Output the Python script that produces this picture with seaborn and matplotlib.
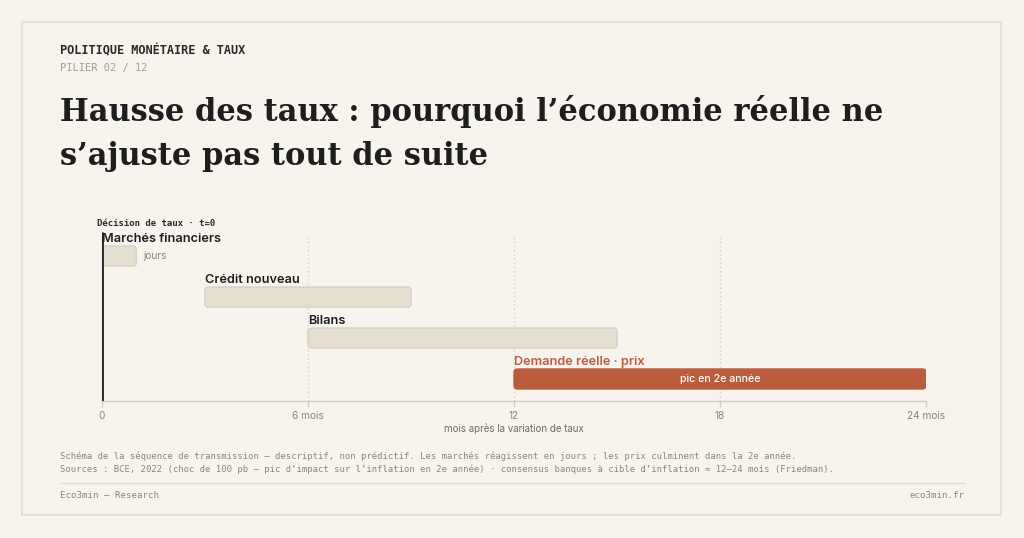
import numpy as np
import matplotlib.pyplot as plt
import seaborn as sns
from matplotlib.patches import Rectangle, FancyBboxPatch
from matplotlib.lines import Line2D

# Data: transmission phases (months after the rate change)
phases = ["Marchés financiers", "Crédit nouveau", "Bilans", "Demande réelle · prix"]
start_months = [0, 3, 6, 12]
end_months = [1, 9, 15, 24]
bar_notes = ["jours", "", "", "pic en 2e année"]
tick_values = [0, 6, 12, 18, 24]
tick_labels = ["0", "6 mois", "12", "18", "24 mois"]

BG = "#f7f4ee"
INK = "#1e1e1e"
MUTED = "#8b867e"
LIGHT_BAR = "#e5dfd2"
LIGHT_EDGE = "#d8d0c1"
RUST = "#bb5c3d"
LINE = "#d2ccc2"

sns.set_theme(style="white")
plt.rcParams["font.family"] = ["Inter", "DejaVu Sans"]

W, H = 1024, 538
fig = plt.figure(figsize=(W / 100, H / 100), dpi=100, facecolor=BG)


def px(x, y):
    return x / W, 1 - y / H


# card frame
fig.patches.append(Rectangle(px(22, 515), (1001 - 22) / W, (515 - 22) / H,
                             transform=fig.transFigure, facecolor="none",
                             edgecolor="#e4ded2", linewidth=1.2, zorder=-1))

MONO = ["DejaVu Sans Mono"]
SERIF = ["DejaVu Serif"]

fig.text(*px(60, 51), "POLITIQUE MONÉTAIRE & TAUX", family=MONO, fontsize=8.6,
         fontweight="bold", color="#2a2a2a", va="center", ha="left")
fig.text(*px(60, 68), "PILIER 02 / 12", family=MONO, fontsize=7.5,
         color="#a39d94", va="center", ha="left")
fig.text(*px(60, 121), "Hausse des taux : pourquoi l’économie réelle ne",
         family=SERIF, fontsize=22, fontweight="bold", color=INK,
         va="baseline", ha="left")
fig.text(*px(60, 165), "s’ajuste pas tout de suite",
         family=SERIF, fontsize=22, fontweight="bold", color=INK,
         va="baseline", ha="left")

# chart axes: rows 41 px apart, bar height 20 px
row_px = 41.0
ax_top, ax_bot = 224, 401
first_center = 256
ylim_top = -(first_center - ax_top) / row_px
ylim_bot = 3 + (ax_bot - (first_center + 3 * row_px)) / row_px

ax = fig.add_axes([102 / W, 1 - ax_bot / H, (926 - 102) / W, (ax_bot - ax_top) / H])
ax.set_facecolor("none")
ax.set_xlim(0, 24)
ax.set_ylim(ylim_bot, ylim_top)

rows = np.arange(len(phases))
bar_h = 20 / row_px
widths = [e - s for s, e in zip(start_months, end_months)]
colors = [LIGHT_BAR] * 3 + [RUST]
edges = [LIGHT_EDGE] * 3 + [RUST]

# dotted guides
for v in tick_values[1:-1]:
    ax.plot([v, v], [ylim_bot, -0.46], color="#d6d0c6", linestyle=(0, (1, 2)),
            linewidth=1, zorder=1)

bars = ax.barh(rows, widths, left=start_months, height=bar_h, color=colors,
               edgecolor=edges, linewidth=1, zorder=2)

# swap the square bars for rounded ones of the same geometry
px_per_month = (926 - 102) / 24
for b, fc, ec in zip(bars, colors, edges):
    b.set_visible(False)
    ax.add_patch(FancyBboxPatch(
        (b.get_x(), b.get_y()), b.get_width(), b.get_height(),
        boxstyle=f"round,pad=0,rounding_size={3.5 / px_per_month}",
        mutation_aspect=px_per_month / row_px,
        facecolor=fc, edgecolor=ec, linewidth=1, zorder=2))

for i, (name, s, e, note) in enumerate(zip(phases, start_months, end_months, bar_notes)):
    is_last = i == len(phases) - 1
    ax.text(s, i - bar_h / 2 - 0.09, name, fontsize=9.2, fontweight="semibold",
            color=RUST if is_last else INK, va="baseline", ha="left", zorder=4)
    if note and is_last:
        ax.text((s + e) / 2, i, note, fontsize=7.6, fontweight="medium",
                color="white", va="center", ha="center", zorder=4)
    elif note:
        ax.text(e + 0.2, i, note, fontsize=7.3, color=MUTED,
                va="center", ha="left", zorder=4)

# t=0 decision line
ax.plot([0, 0], [ylim_bot, ylim_top + 8 / row_px], color="#222222",
        linewidth=2, zorder=5, solid_capstyle="butt")

sns.despine(ax=ax, left=True, top=True, right=True)
ax.spines["bottom"].set_color(LINE)
ax.spines["bottom"].set_linewidth(1)
ax.set_yticks([])
ax.set_xticks(tick_values)
ax.set_xticklabels(tick_labels)
ax.tick_params(axis="x", direction="out", length=4, width=1, color=LINE,
               labelsize=7.3, labelcolor=MUTED, pad=3, bottom=True)
ax.set_xlabel("mois après la variation de taux", fontsize=7, color="#6f6a63",
              labelpad=1.5)

fig.text(*px(97, 224), "Décision de taux · t=0", family=MONO, fontsize=6.5,
         fontweight="bold", color="#2a2a2a", va="center", ha="left")

# footnotes
fig.text(*px(60, 456), "Schéma de la séquence de transmission — descriptif, non prédictif. "
         "Les marchés réagissent en jours ; les prix culminent dans la 2e année.",
         family=MONO, fontsize=6.4, color=MUTED, va="center", ha="left")
fig.text(*px(60, 469), "Sources : BCE, 2022 (choc de 100 pb — pic d’impact sur l’inflation "
         "en 2e année) · consensus banques à cible d’inflation ≈ 12–24 mois (Friedman).",
         family=MONO, fontsize=6.4, color=MUTED, va="center", ha="left")

fig.lines.append(Line2D([60 / W, 964 / W], [1 - 483 / H, 1 - 483 / H],
                        transform=fig.transFigure, color="#e2dcd0", linewidth=1))
fig.text(*px(60, 495), "Eco3min — Research", family=MONO, fontsize=6.6,
         color=MUTED, va="center", ha="left")
fig.text(*px(964, 495), "eco3min.fr", family=MONO, fontsize=6.6,
         color=MUTED, va="center", ha="right")

fig.savefig("out.png", dpi=100, facecolor=BG)
